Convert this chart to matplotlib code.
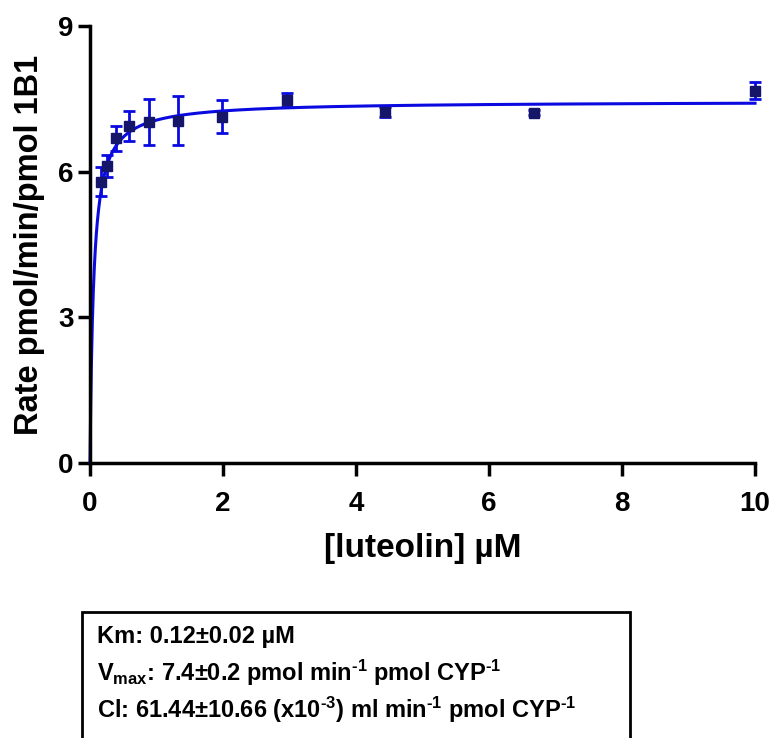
import numpy as np
import matplotlib
matplotlib.use("Agg")
import matplotlib.pyplot as plt
from matplotlib.patches import Rectangle

plt.rcParams['font.family'] = ['Liberation Sans', 'DejaVu Sans']
plt.rcParams['font.weight'] = 'bold'
plt.rcParams['mathtext.fontset'] = 'custom'
plt.rcParams['mathtext.rm'] = 'Liberation Sans:bold'
plt.rcParams['mathtext.it'] = 'Liberation Sans:bold'
plt.rcParams['mathtext.bf'] = 'Liberation Sans:bold'
plt.rcParams['mathtext.sf'] = 'Liberation Sans:bold'
plt.rcParams['mathtext.default'] = 'rm'

# luteolin concentration (uM), mean rate and error
conc = [0.17, 0.26, 0.39, 0.59, 0.88, 1.32, 1.98, 2.96, 4.44, 6.67, 10.0]
rate = [5.79, 6.12, 6.69, 6.94, 7.02, 7.05, 7.13, 7.48, 7.23, 7.21, 7.67]
err = [0.30, 0.22, 0.26, 0.30, 0.47, 0.50, 0.34, 0.14, 0.10, 0.05, 0.17]

# Michaelis-Menten curve drawn on the plot
vmax_fit = 7.45
km_fit = 0.055

box_lines = [
    "Km: 0.12\u00b10.02 \u00b5M",
    "V$_{max}$: 7.4\u00b10.2 pmol min$^{\\text{-1}}$ pmol CYP$^{\\text{-1}}$",
    "Cl: 61.44\u00b110.66 (x10$^{\\text{-3}}$) ml min$^{\\text{-1}}$ pmol CYP$^{\\text{-1}}$",
]

blue = '#0a0ae0'
navy = '#15156a'

fig = plt.figure(figsize=(7.72, 7.38), dpi=100)
ax = fig.add_axes([0.1166, 0.3726, 0.8614, 0.5922])

xs = np.linspace(0, 10, 2000)
ax.plot(xs, vmax_fit * xs / (km_fit + xs), color=blue, lw=2.2, zorder=2)
ax.errorbar(conc, rate, yerr=err, fmt='s', color=navy, ecolor=blue,
            ms=7, elinewidth=2, capsize=4, capthick=2, zorder=3)

ax.set_xlim(0, 10)
ax.set_ylim(0, 9)
ax.set_xticks([0, 2, 4, 6, 8, 10])
ax.set_yticks([0, 3, 6, 9])
for s in ['top', 'right']:
    ax.spines[s].set_visible(False)
for s in ['left', 'bottom']:
    ax.spines[s].set_linewidth(2.5)
ax.tick_params(width=2.5, length=9, labelsize=20)
ax.tick_params(axis='x', pad=11)
ax.tick_params(axis='y', pad=3)
for a in ax.get_children():
    try:
        a.set_clip_on(False)
    except Exception:
        pass

ax.set_xlabel("[luteolin] \u00b5M", fontsize=24, fontweight='bold', labelpad=12)
ax.set_ylabel("Rate pmol/min/pmol 1B1", fontsize=23.5, fontweight='bold', labelpad=9)

# parameter box below the plot
fig.patches.append(Rectangle((82 / 772, -0.05), (630 - 82) / 772, 0.05 + (738 - 612) / 738,
                             transform=fig.transFigure, fill=False, lw=2, ec='black'))
for i, line in enumerate(box_lines):
    fig.text(97 / 772, 1 - (636 + 37 * i) / 738, line, fontsize=17,
             fontweight='bold', va='center', ha='left')

fig.savefig("out.png", dpi=100)
